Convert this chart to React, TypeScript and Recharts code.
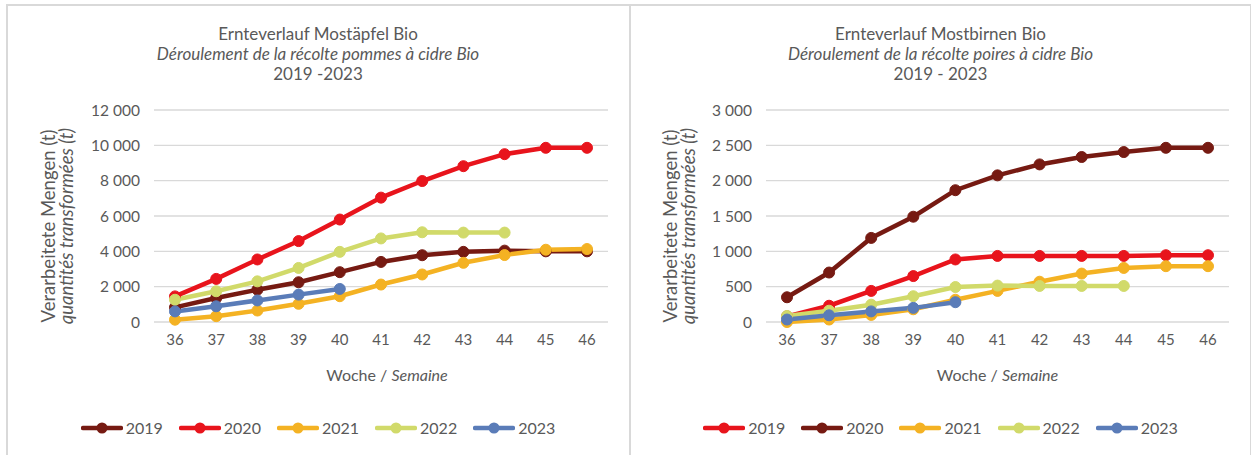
import React from 'react';
import { LineChart, Line, XAxis, YAxis, CartesianGrid } from 'recharts';

const weeks = ['36', '37', '38', '39', '40', '41', '42', '43', '44', '45', '46'];
const years = ['2019', '2020', '2021', '2022', '2023'];

// Mostäpfel Bio (t)
const apples2019 = [830, 1360, 1830, 2250, 2820, 3400, 3780, 3970, 4040, 4000, 4000];
const apples2020 = [1450, 2440, 3540, 4580, 5800, 7040, 7980, 8820, 9500, 9860, 9860];
const apples2021 = [130, 330, 650, 1030, 1460, 2120, 2690, 3350, 3790, 4090, 4130];
const apples2022 = [1260, 1740, 2300, 3060, 3970, 4730, 5080, 5060, 5060, null, null];
const apples2023 = [600, 890, 1220, 1550, 1870, null, null, null, null, null, null];

// Mostbirnen Bio (t)
const pears2019 = [80, 230, 440, 650, 885, 935, 935, 935, 935, 945, 945];
const pears2020 = [350, 700, 1190, 1490, 1865, 2075, 2230, 2335, 2405, 2465, 2465];
const pears2021 = [0, 35, 100, 180, 315, 440, 570, 685, 765, 790, 790];
const pears2022 = [85, 160, 245, 365, 495, 515, 510, 510, 510, null, null];
const pears2023 = [35, 95, 150, 200, 280, null, null, null, null, null, null];

const appleTicks = [0, 2000, 4000, 6000, 8000, 10000, 12000];
const pearTicks = [0, 500, 1000, 1500, 2000, 2500, 3000];

const BROWN = '#761A12';
const RED = '#E8141C';
const ORANGE = '#F4B223';
const GREEN = '#D1DA6A';
const BLUE = '#5A7CB8';

const appleColors = [BROWN, RED, ORANGE, GREEN, BLUE];
const pearColors = [RED, BROWN, ORANGE, GREEN, BLUE];

const TEXT = '#595959';
const FONT = 'Lato, "Open Sans", sans-serif';

function buildRows(series: (number | null)[][]) {
  return weeks.map((w, i) => {
    const row: Record<string, any> = { week: w };
    years.forEach((y, k) => {
      row[y] = series[k][i];
    });
    return row;
  });
}

const appleRows = buildRows([apples2019, apples2020, apples2021, apples2022, apples2023]);
const pearRows = buildRows([pears2019, pears2020, pears2021, pears2022, pears2023]);

const fmt = (n: number) => String(n).replace(/\B(?=(\d{3})+(?!\d))/g, ' ');

type PanelProps = {
  left: number;
  width: number;
  title1: string;
  title2: string;
  title3: string;
  rows: any[];
  colors: string[];
  ticks: number[];
  marginLeft: number;
  yTitleX: number;
  xTitleShift: number;
};

function Panel(p: PanelProps) {
  const plotLeft = p.marginLeft + 60;
  const plotRight = p.width - 22;
  const plotCenter = (plotLeft + plotRight) / 2 + p.xTitleShift;
  return (
    <div style={{ position: 'absolute', left: p.left, top: 0, width: p.width, height: 455 }}>
      <div
        style={{
          position: 'absolute',
          left: 0,
          top: 24,
          width: p.width,
          textAlign: 'center',
          color: TEXT,
          fontSize: 17,
          lineHeight: '20px',
        }}
      >
        <div>{p.title1}</div>
        <div style={{ fontStyle: 'italic' }}>{p.title2}</div>
        <div>{p.title3}</div>
      </div>
      <div
        style={{
          position: 'absolute',
          left: p.yTitleX,
          top: 226,
          transform: 'translate(-50%, -50%) rotate(-90deg)',
          whiteSpace: 'nowrap',
          textAlign: 'center',
          color: TEXT,
          fontSize: 18.5,
          lineHeight: '18px',
        }}
      >
        <div>Verarbeitete Mengen (t)</div>
        <div style={{ fontStyle: 'italic' }}>quantités transformées (t)</div>
      </div>
      <div
        style={{
          position: 'absolute',
          left: plotCenter - 150,
          width: 300,
          top: 364,
          textAlign: 'center',
          color: TEXT,
          fontSize: 16,
          lineHeight: '22px',
        }}
      >
        Woche / <span style={{ fontStyle: 'italic' }}>Semaine</span>
      </div>
      <div style={{ position: 'absolute', left: 0, top: 0 }}>
        <LineChart
          width={p.width}
          height={455}
          data={p.rows}
          margin={{ top: 110, right: 22, bottom: 103, left: p.marginLeft }}
        >
          <CartesianGrid vertical={false} stroke="#D9D9D9" strokeWidth={1.3} />
          <XAxis
            dataKey="week"
            height={30}
            axisLine={false}
            tickLine={false}
            tickSize={0}
            tickMargin={12}
            padding={{ left: 21, right: 21 }}
            tick={{ fill: TEXT, fontSize: 15, fontFamily: FONT }}
            interval={0}
          />
          <YAxis
            width={60}
            domain={[p.ticks[0], p.ticks[p.ticks.length - 1]]}
            ticks={p.ticks}
            axisLine={false}
            tickLine={false}
            tickSize={0}
            tickMargin={14}
            tickFormatter={fmt}
            tick={{ fill: TEXT, fontSize: 15.5, fontFamily: FONT }}
          />
          {years.map((y, k) => (
            <Line
              key={y}
              dataKey={y}
              type="linear"
              stroke={p.colors[k]}
              strokeWidth={4.5}
              dot={{ r: 5.5, fill: p.colors[k], stroke: p.colors[k], strokeWidth: 1 }}
              activeDot={false}
              isAnimationActive={false}
              connectNulls={false}
            />
          ))}
        </LineChart>
      </div>
      <div
        style={{
          position: 'absolute',
          left: 0,
          width: p.width,
          top: 418,
          display: 'flex',
          justifyContent: 'center',
          gap: 16,
          color: TEXT,
          fontSize: 16,
          lineHeight: '20px',
        }}
      >
        {years.map((y, k) => (
          <div key={y} style={{ display: 'flex', alignItems: 'center' }}>
            <svg width={42} height={14} style={{ marginRight: 3 }}>
              <line x1={2} y1={7} x2={40} y2={7} stroke={p.colors[k]} strokeWidth={4.5} strokeLinecap="round" />
              <circle cx={21} cy={7} r={5.5} fill={p.colors[k]} />
            </svg>
            <span>{y}</span>
          </div>
        ))}
      </div>
    </div>
  );
}

export default function App() {
  return (
    <div
      style={{
        position: 'absolute',
        left: 0,
        top: 0,
        width: 1251,
        height: 455,
        background: '#fff',
        fontFamily: FONT,
        overflow: 'hidden',
      }}
    >
      <div
        style={{
          position: 'absolute',
          left: 6,
          top: 4,
          width: 625,
          height: 470,
          border: '2px solid #D9D9D9',
          boxSizing: 'border-box',
        }}
      />
      <div
        style={{
          position: 'absolute',
          left: 629,
          top: 4,
          width: 623,
          height: 470,
          border: '2px solid #D9D9D9',
          boxSizing: 'border-box',
        }}
      />
      <Panel
        left={6}
        width={624}
        title1="Ernteverlauf Mostäpfel Bio"
        title2="Déroulement de la récolte pommes à cidre Bio"
        title3="2019 -2023"
        rows={appleRows}
        colors={appleColors}
        ticks={appleTicks}
        marginLeft={88}
        yTitleX={51}
        xTitleShift={6}
      />
      <Panel
        left={630}
        width={621}
        title1="Ernteverlauf Mostbirnen Bio"
        title2="Déroulement de la récolte poires à cidre Bio"
        title3="2019 - 2023"
        rows={pearRows}
        colors={pearColors}
        ticks={pearTicks}
        marginLeft={76}
        yTitleX={49}
        xTitleShift={0}
      />
    </div>
  );
}
